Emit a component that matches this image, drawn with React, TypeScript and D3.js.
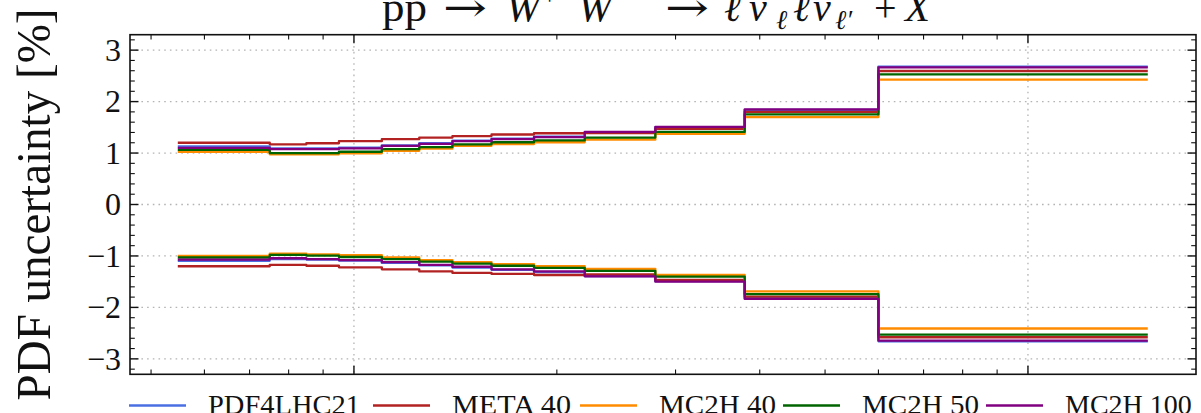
import React, { useEffect } from 'react';
import * as d3 from 'd3';

// ---------------- data ----------------
const binEdges = [55, 75, 85, 95, 110, 125, 140, 160, 185, 220, 280, 380, 600, 1500];

const seriesNames = ['PDF4LHC21', 'META 40', 'MC2H 40', 'MC2H 50', 'MC2H 100'];
const seriesColors = ['#4a6fe3', '#b22222', '#ff8c00', '#006400', '#800080'];

const upperPDF4LHC21 = [1.13, 1.09, 1.09, 1.105, 1.15, 1.19, 1.24, 1.28, 1.32, 1.40, 1.50, 1.84, 2.68];
const upperMETA40 = [1.20, 1.17, 1.19, 1.23, 1.27, 1.30, 1.33, 1.36, 1.385, 1.39, 1.47, 1.80, 2.595];
const upperMC2H40 = [1.025, 0.975, 0.975, 0.995, 1.045, 1.085, 1.14, 1.175, 1.21, 1.26, 1.375, 1.70, 2.425];
const upperMC2H50 = [1.06, 1.00, 1.00, 1.025, 1.075, 1.115, 1.17, 1.21, 1.245, 1.30, 1.41, 1.75, 2.53];
const upperMC2H100 = [1.10, 1.075, 1.075, 1.09, 1.14, 1.18, 1.23, 1.27, 1.31, 1.41, 1.51, 1.85, 2.665];

const lowerPDF4LHC21 = [-1.095, -1.06, -1.07, -1.09, -1.135, -1.185, -1.225, -1.27, -1.315, -1.39, -1.49, -1.82, -2.66];
const lowerMETA40 = [-1.20, -1.175, -1.19, -1.22, -1.26, -1.30, -1.33, -1.35, -1.37, -1.36, -1.465, -1.79, -2.58];
const lowerMC2H40 = [-1.00, -0.955, -0.97, -0.985, -1.03, -1.08, -1.12, -1.16, -1.20, -1.25, -1.37, -1.69, -2.41];
const lowerMC2H50 = [-1.03, -0.98, -0.995, -1.02, -1.06, -1.11, -1.15, -1.19, -1.23, -1.29, -1.40, -1.74, -2.53];
const lowerMC2H100 = [-1.07, -1.045, -1.06, -1.08, -1.12, -1.175, -1.21, -1.26, -1.30, -1.395, -1.50, -1.835, -2.645];

const upperSeries = [upperPDF4LHC21, upperMETA40, upperMC2H40, upperMC2H50, upperMC2H100];
const lowerSeries = [lowerPDF4LHC21, lowerMETA40, lowerMC2H40, lowerMC2H50, lowerMC2H100];

const yTickValues = [-3, -2, -1, 0, 1, 2, 3];
const yTickLabels = ['\u22123', '\u22122', '\u22121', '0', '1', '2', '3'];
const xMajorTicks = [100, 1000];
const xMinorTicks = [50, 60, 70, 80, 90, 200, 300, 400, 500, 600, 700, 800, 900];

const yLabel = 'PDF uncertainty [%]';

// ---------------- layout ----------------
const W = 1201;
const H = 413;
const plot = { left: 130, right: 1196, top: 34.7, bottom: 374.3 };
const FONT = '"Liberation Serif", "Times New Roman", serif';
const ARROW_FONT = '"DejaVu Serif", "Liberation Serif", serif';

// legend measured layout
const legendHandleStarts = [129, 373, 580, 783, 986];
const legendTextWidths = [152, 119, 117, 117, 0];

// title pieces: [x, text, italic, size, baseline, width(0 = natural), isArrow]
const titlePieces: [number, string, boolean, number, number, number, boolean][] = [
  [382, 'pp', false, 41, 21, 45, false],
  [443, '\u2192', false, 40, 21, 44, true],
  [506, 'W', true, 41, 21, 0, false],
  [542, '+', false, 27, 5, 0, false],
  [578, 'W', true, 41, 21, 0, false],
  [616, '\u2212', false, 27, 5, 0, false],
  [665, '\u2192', false, 40, 21, 44, true],
  [724, '\u2113', true, 40, 21, 0, false],
  [749, '\u03BD', true, 40, 21, 0, false],
  [776, '\u2113', true, 27, 29, 0, false],
  [793, '\u2113', true, 40, 21, 0, false],
  [813, '\u03BD', true, 40, 21, 0, false],
  [835, '\u2113\u2032', true, 27, 29, 0, false],
  [874, '+', false, 40, 21, 0, false],
  [905, 'X', true, 41, 21, 0, false],
];

export default function App() {
  useEffect(() => {
    document.body.style.margin = '0';
  }, []);

  const x = d3.scaleLog().domain([46.53, 1775.5]).range([plot.left, plot.right]);
  const y = d3.scaleLinear().domain([-3.3, 3.3]).range([plot.bottom, plot.top]);

  const line = d3
    .line<[number, number]>()
    .x((d) => x(d[0]))
    .y((d) => y(d[1]))
    .curve(d3.curveStepAfter);

  const stepPts = (vals: number[]): [number, number][] => [
    ...vals.map((v, i) => [binEdges[i], v] as [number, number]),
    [binEdges[binEdges.length - 1], vals[vals.length - 1]],
  ];

  const yMinor = d3.range(-32, 33, 2).map((v) => v / 10).filter((v) => Math.abs(v - Math.round(v)) > 1e-6);

  const gridStyle = { stroke: '#b4b4b4', strokeWidth: 1.3, strokeDasharray: '1.6,4.1' };
  const tickStroke = '#111';
  const majorLen = 8.5;
  const minorLen = 4.8;

  return (
    <svg width={W} height={H} style={{ position: 'absolute', left: 0, top: 0, background: '#fff' }}>
      <rect x={0} y={0} width={W} height={H} fill="#fff" />
      {/* grid */}
      {yTickValues.map((v) => (
        <line key={'gy' + v} x1={plot.left} x2={plot.right} y1={y(v)} y2={y(v)} {...gridStyle} />
      ))}
      {xMajorTicks.map((v) => (
        <line key={'gx' + v} x1={x(v)} x2={x(v)} y1={plot.top} y2={plot.bottom} {...gridStyle} />
      ))}

      {/* data */}
      {[upperSeries, lowerSeries].map((group, gi) =>
        group.map((vals, si) => (
          <path
            key={gi + '-' + si}
            d={line(stepPts(vals)) || ''}
            fill="none"
            stroke={seriesColors[si]}
            strokeWidth={2.3}
            strokeLinejoin="round"
            strokeLinecap="square"
          />
        ))
      )}

      {/* frame */}
      <rect
        x={plot.left}
        y={plot.top}
        width={plot.right - plot.left}
        height={plot.bottom - plot.top}
        fill="none"
        stroke={tickStroke}
        strokeWidth={1.6}
      />

      {/* y ticks */}
      {yTickValues.map((v) => (
        <g key={'yt' + v} stroke={tickStroke} strokeWidth={1.4}>
          <line x1={plot.left} x2={plot.left + majorLen} y1={y(v)} y2={y(v)} />
          <line x1={plot.right} x2={plot.right - majorLen} y1={y(v)} y2={y(v)} />
        </g>
      ))}
      {yMinor.map((v) => (
        <g key={'ym' + v} stroke={tickStroke} strokeWidth={1.1}>
          <line x1={plot.left} x2={plot.left + minorLen} y1={y(v)} y2={y(v)} />
          <line x1={plot.right} x2={plot.right - minorLen} y1={y(v)} y2={y(v)} />
        </g>
      ))}
      {/* x ticks */}
      {xMajorTicks.map((v) => (
        <g key={'xt' + v} stroke={tickStroke} strokeWidth={1.4}>
          <line x1={x(v)} x2={x(v)} y1={plot.bottom} y2={plot.bottom - majorLen} />
          <line x1={x(v)} x2={x(v)} y1={plot.top} y2={plot.top + majorLen} />
        </g>
      ))}
      {xMinorTicks.map((v) => (
        <g key={'xm' + v} stroke={tickStroke} strokeWidth={1.1}>
          <line x1={x(v)} x2={x(v)} y1={plot.bottom} y2={plot.bottom - minorLen} />
          <line x1={x(v)} x2={x(v)} y1={plot.top} y2={plot.top + minorLen} />
        </g>
      ))}

      {/* y tick labels */}
      {yTickValues.map((v, i) => (
        <text
          key={'yl' + v}
          x={121}
          y={y(v)}
          dy="0.34em"
          textAnchor="end"
          fontSize={32}
          fontFamily={FONT}
          fill="#111"
        >
          {yTickLabels[i]}
        </text>
      ))}

      {/* y label */}
      <text
        transform={`translate(50, ${(plot.top + plot.bottom) / 2}) rotate(-90)`}
        textAnchor="middle"
        fontSize={49}
        fontFamily={FONT}
        fill="#111"
        textLength={392}
        lengthAdjust="spacingAndGlyphs"
      >
        {yLabel}
      </text>

      {/* title */}
      {titlePieces.map(([tx, t, it, fs, by, tw, arrow], i) => (
        <text
          key={'t' + i}
          x={tx}
          y={by}
          fontSize={fs}
          fontFamily={arrow ? ARROW_FONT : FONT}
          fontStyle={it ? 'italic' : 'normal'}
          fill="#111"
          {...(tw > 0 ? { textLength: tw, lengthAdjust: 'spacingAndGlyphs' } : {})}
        >
          {t}
        </text>
      ))}

      {/* legend */}
      {seriesNames.map((name, i) => {
        const hx = legendHandleStarts[i];
        const tw = legendTextWidths[i];
        return (
          <g key={'lg' + i}>
            <line x1={hx} x2={hx + 57} y1={405.5} y2={405.5} stroke={seriesColors[i]} strokeWidth={2.3} />
            <text
              x={hx + 79}
              y={413.5}
              fontSize={28}
              fontFamily={FONT}
              fill="#111"
              {...(tw > 0 ? { textLength: tw, lengthAdjust: 'spacingAndGlyphs' } : {})}
            >
              {name}
            </text>
          </g>
        );
      })}
    </svg>
  );
}
